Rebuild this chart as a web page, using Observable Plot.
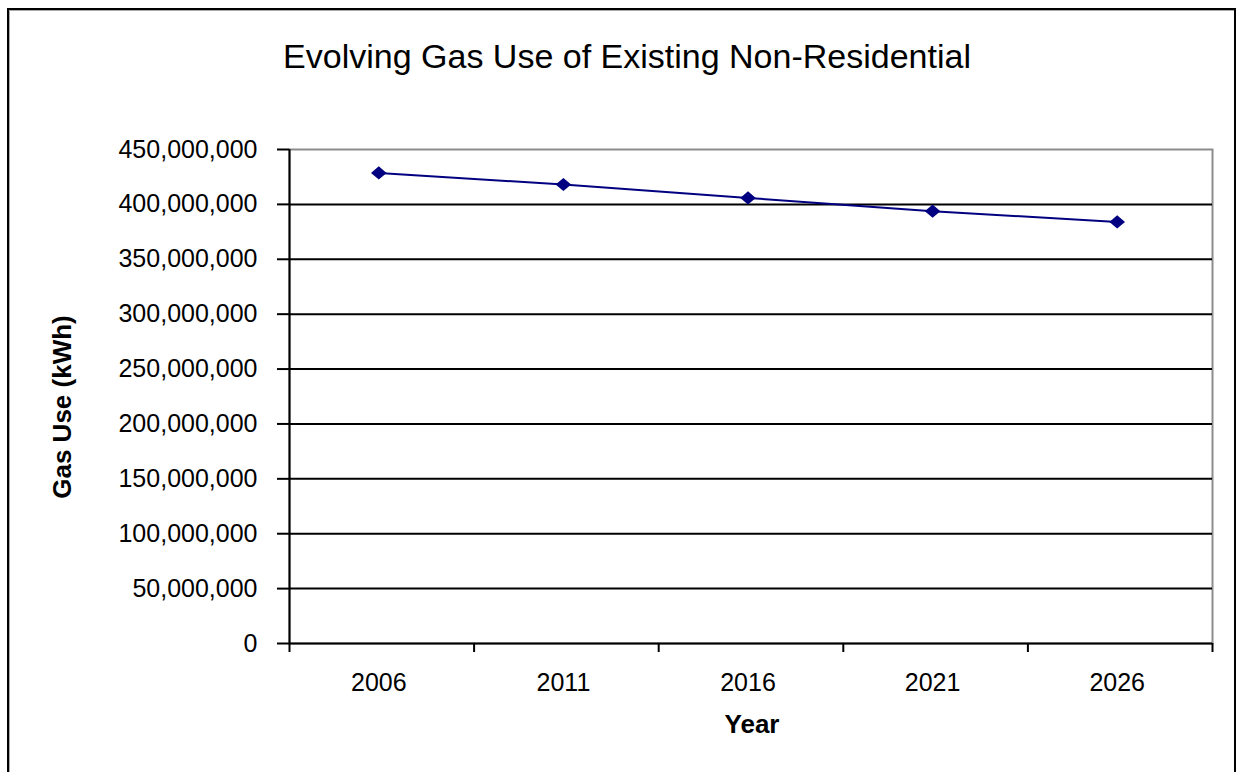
<!DOCTYPE html>
<html>
<head>
<meta charset="utf-8">
<script src="https://cdn.jsdelivr.net/npm/d3@7"></script>
<script src="https://cdn.jsdelivr.net/npm/@observablehq/plot@0.6"></script>
<style>
  html, body { margin: 0; padding: 0; background: #fff; }
  #chart {
    position: relative;
    width: 1239px;
    height: 772px;
    overflow: hidden;
    font-family: "Liberation Sans", Arial, sans-serif;
    color: #000;
  }
  #chart svg { position: absolute; left: 0; top: 0; }
  .border {
    position: absolute;
    left: 7px; top: 8px;
    width: 1229px; height: 820px;
    box-sizing: border-box;
    border: 2px solid #000;
    border-bottom: none;
    box-shadow: inset 1px 1px 0 #aaa;
  }
  .title {
    position: absolute;
    left: 627px; top: 39px;
    transform: translateX(-50%);
    font-size: 34px; line-height: 34px;
    white-space: nowrap;
  }
  .ylabel {
    position: absolute;
    left: 62px; top: 407px;
    transform: translate(-50%, -50%) rotate(-90deg);
    font-size: 26px; line-height: 26px; font-weight: bold;
    white-space: nowrap;
  }
  .xlabel {
    position: absolute;
    left: 752px; top: 711px;
    transform: translateX(-50%);
    font-size: 26px; line-height: 26px; font-weight: bold;
    white-space: nowrap;
  }
</style>
</head>
<body>
<div id="chart">
  <div class="border"></div>
  <div class="title">Evolving Gas Use of Existing Non-Residential</div>
  <div class="ylabel">Gas Use (kWh)</div>
  <div class="xlabel">Year</div>
</div>
<script>
// Gas use of the existing non-residential stock, in kWh
const years = [2006, 2011, 2016, 2021, 2026];
const gasUse = [428.7e6, 418.1e6, 405.9e6, 393.8e6, 384.0e6];
const yTicks = [0, 50e6, 100e6, 150e6, 200e6, 250e6, 300e6, 350e6, 400e6, 450e6];

const data = years.map((year, i) => ({year, value: gasUse[i]}));

// Category boundaries: each year sits in the middle of a 5-year slot
const step = years[1] - years[0];
const bounds = [...years.map(y => y - step / 2), years[years.length - 1] + step / 2];

// Filled diamond, a little wider than tall
const diamond = {
  draw(context, size) {
    const r = Math.sqrt(size / Math.PI);
    const w = r * 1.18;
    context.moveTo(w, 0);
    context.lineTo(0, r);
    context.lineTo(-w, 0);
    context.lineTo(0, -r);
    context.closePath();
  }
};

// Points and year labels sit a touch left of the slot centre
const shift = -3;

const chart = Plot.plot({
  width: 1239,
  height: 772,
  marginLeft: 289,
  marginRight: 27,
  marginTop: 149,
  marginBottom: 129,
  style: {
    background: "transparent",
    fontFamily: "'Liberation Sans', Arial, sans-serif",
    fontSize: "25px",
    color: "#000"
  },
  x: {type: "linear", domain: [bounds[0], bounds[bounds.length - 1]]},
  y: {domain: [0, yTicks[yTicks.length - 1]]},
  marks: [
    Plot.frame({stroke: "#8c8c8c", strokeWidth: 2}),
    Plot.gridY(yTicks.slice(1, -1), {stroke: "#000", strokeOpacity: 1, strokeWidth: 2}),
    Plot.ruleY([0], {stroke: "#000", strokeWidth: 2}),
    Plot.ruleX([bounds[0]], {stroke: "#000", strokeWidth: 2}),
    Plot.axisY({
      ticks: yTicks,
      tickSize: 12,
      tickPadding: 20,
      tickFormat: d3.format(","),
      stroke: "#000",
      strokeWidth: 2,
      label: null
    }),
    Plot.axisX({
      ticks: bounds,
      tickSize: 9,
      tickFormat: () => "",
      stroke: "#000",
      strokeWidth: 2,
      label: null
    }),
    Plot.axisX({
      ticks: years,
      tickSize: 0,
      tickPadding: 30,
      tickFormat: d => String(d),
      dx: shift,
      label: null
    }),
    Plot.line(data, {x: "year", y: "value", stroke: "#000080", strokeWidth: 2, dx: shift}),
    Plot.dot(data, {x: "year", y: "value", symbol: diamond, r: 6.6, fill: "#000080", stroke: "none", dx: shift})
  ]
});

document.getElementById("chart").appendChild(chart);
</script>
</body>
</html>
